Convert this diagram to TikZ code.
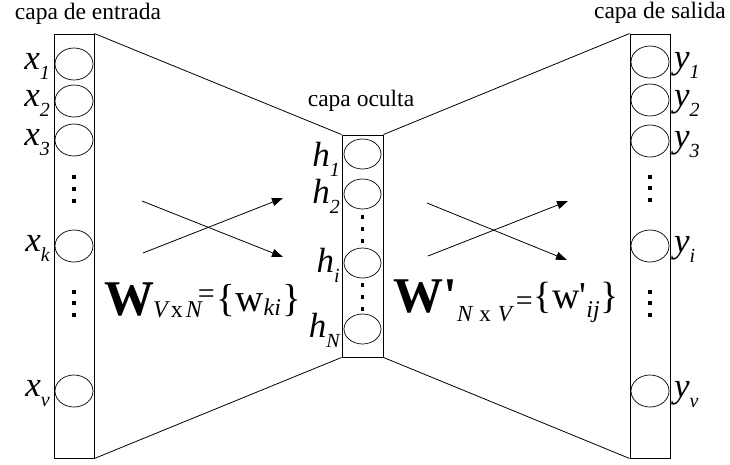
\documentclass[tikz,border=0pt]{standalone}
\usepackage{fontspec}
\setmainfont{Liberation Serif}
\newfontfamily\rawserif{Liberation Serif}
\usetikzlibrary{shapes.geometric, arrows.meta}
\tikzset{
  capa/.style   = {rectangle, draw, line width=0.9pt, minimum width=40pt, inner sep=0},
  neu/.style    = {ellipse, draw, line width=0.7pt, minimum width=38pt, minimum height=32pt, inner sep=0},
  neuh/.style   = {neu, minimum width=37pt, minimum height=30pt},
  pto/.style    = {rectangle, fill=black, minimum size=3.5pt, inner sep=0},
  etq/.style    = {font=\fontsize{23.5}{23.5}\selectfont, inner sep=0},
  var/.style    = {font=\fontsize{35}{35}\selectfont\itshape, inner sep=0},
  eq/.style     = {inner sep=0},
  enlace/.style = {line width=0.8pt},
  peso/.style   = {line width=0.8pt, -{Triangle[length=11pt, width=8pt]}}
}
\newcommand{\ssub}[1]{\raisebox{-10pt}{\fontsize{20}{20}\selectfont\itshape #1}}
\newcommand{\fsz}[2]{{\fontsize{#1}{#1}\selectfont #2}}
\newcommand{\prm}{{\rawserif\symbol{39}}}

\begin{document}
\begin{tikzpicture}[x=1pt, y=-1pt]
  \useasboundingbox (0,0) rectangle (730,464);

  % ---------- capas ----------
  \node[capa, minimum height=424pt] (entrada) at (74,246) {};
  \node[capa, minimum height=222pt, minimum width=41pt] (oculta) at (362.5,246) {};
  \node[capa, minimum height=424pt] (salida) at (650,246) {};

  \draw[enlace] (entrada.north east) -- (oculta.north west);
  \draw[enlace] (entrada.south east) -- (oculta.south west);
  \draw[enlace] (oculta.north east) -- (salida.north west);
  \draw[enlace] (oculta.south east) -- (salida.south west);

  \node[etq, anchor=base] (tent) at (88,19)   {capa de entrada};
  \node[etq, anchor=base] (toc)  at (361,106) {capa oculta};
  \node[etq, anchor=base] (tsal) at (660,18)  {capa de salida};

  % ---------- capa de entrada ----------
  \node[neu] (x1) at (74,64)  {}; \node[var, anchor=base east] (lx1) at (50,69)  {x\ssub{1}};
  \node[neu] (x2) at (74,101) {}; \node[var, anchor=base east] (lx2) at (50,106) {x\ssub{2}};
  \node[neu] (x3) at (74,140) {}; \node[var, anchor=base east] (lx3) at (50,145) {x\ssub{3}};
  \node[pto] (ex1) at (74,177) {}; \node[pto] (ex2) at (74,189) {}; \node[pto] (ex3) at (74,201) {};
  \node[neu] (xk) at (74,246) {}; \node[var, anchor=base east] (lxk) at (50,251) {x\ssub{k}};
  \node[pto] (ex4) at (74,292) {}; \node[pto] (ex5) at (74,303) {}; \node[pto] (ex6) at (74,315) {};
  \node[neu] (xv) at (74,391) {}; \node[var, anchor=base east] (lxv) at (50,396) {x\ssub{v}};

  % ---------- capa oculta ----------
  \node[neuh] (h1) at (362.5,154) {}; \node[var, anchor=base east] (lh1) at (340,166) {h\ssub{1}};
  \node[neuh] (h2) at (362.5,194) {}; \node[var, anchor=base east] (lh2) at (340,203) {h\ssub{2}};
  \node[pto] (eh1) at (362.5,217) {}; \node[pto] (eh2) at (362.5,229) {}; \node[pto] (eh3) at (362.5,241) {};
  \node[neuh] (hi) at (362.5,263) {}; \node[var, anchor=base east] (lhi) at (340,272) {h\ssub{i}};
  \node[pto] (eh4) at (362.5,285) {}; \node[pto] (eh5) at (362.5,297) {}; \node[pto] (eh6) at (362.5,309) {};
  \node[neuh] (hN) at (362.5,329) {}; \node[var, anchor=base east] (lhN) at (340,337) {h\ssub{N}};

  % ---------- capa de salida ----------
  \node[neu] (y1) at (650,62)  {}; \node[var, anchor=base west] (ly1) at (674,68)  {y\ssub{1}};
  \node[neu] (y2) at (650,100) {}; \node[var, anchor=base west] (ly2) at (674,106) {y\ssub{2}};
  \node[neu] (y3) at (650,141) {}; \node[var, anchor=base west] (ly3) at (674,147) {y\ssub{3}};
  \node[pto] (ey1) at (650,177) {}; \node[pto] (ey2) at (650,188) {}; \node[pto] (ey3) at (650,200) {};
  \node[neu] (yi) at (650,246) {}; \node[var, anchor=base west] (lyi) at (674,252) {y\ssub{i}};
  \node[pto] (ey4) at (650,292) {}; \node[pto] (ey5) at (650,303) {}; \node[pto] (ey6) at (650,315) {};
  \node[neu] (yv) at (650,391) {}; \node[var, anchor=base west] (lyv) at (674,397) {y\ssub{v}};

  % ---------- pesos ----------
  \coordinate (a1) at (142,201); \coordinate (b1) at (283,257);
  \coordinate (a2) at (143,253); \coordinate (b2) at (283,198);
  \draw[peso] (a1) -- (b1);
  \draw[peso] (a2) -- (b2);

  \coordinate (c1) at (427,203); \coordinate (d1) at (567,260);
  \coordinate (c2) at (428,256); \coordinate (d2) at (568,201);
  \draw[peso] (c1) -- (d1);
  \draw[peso] (c2) -- (d2);

  \node[eq, anchor=base west] (W) at (104,315)
    {\fsz{50}{\bfseries W}\kern-1pt\raisebox{-2pt}{\fsz{24}{\itshape V\kern3pt\upshape x\kern3pt\itshape N}}\kern-4pt\raisebox{12pt}{\fsz{30}{=}}\kern2pt\raisebox{4pt}{\fsz{39}{\{w}}\fsz{24}{\itshape ki}\kern2pt\raisebox{4pt}{\fsz{39}{\}}}};
  \node[eq, anchor=base west] (Wp) at (393,312)
    {\fsz{50}{\bfseries W\prm}\raisebox{-9pt}{\fsz{23}{\itshape N\kern7pt\upshape x\kern7pt\itshape V}}\kern4pt\raisebox{2pt}{\fsz{30}{=}}\kern1pt\raisebox{4pt}{\fsz{38}{\{w\prm}}\raisebox{-5pt}{\fsz{24}{\itshape ij}}\kern1pt\raisebox{4pt}{\fsz{38}{\}}}};

\end{tikzpicture}
\end{document}
